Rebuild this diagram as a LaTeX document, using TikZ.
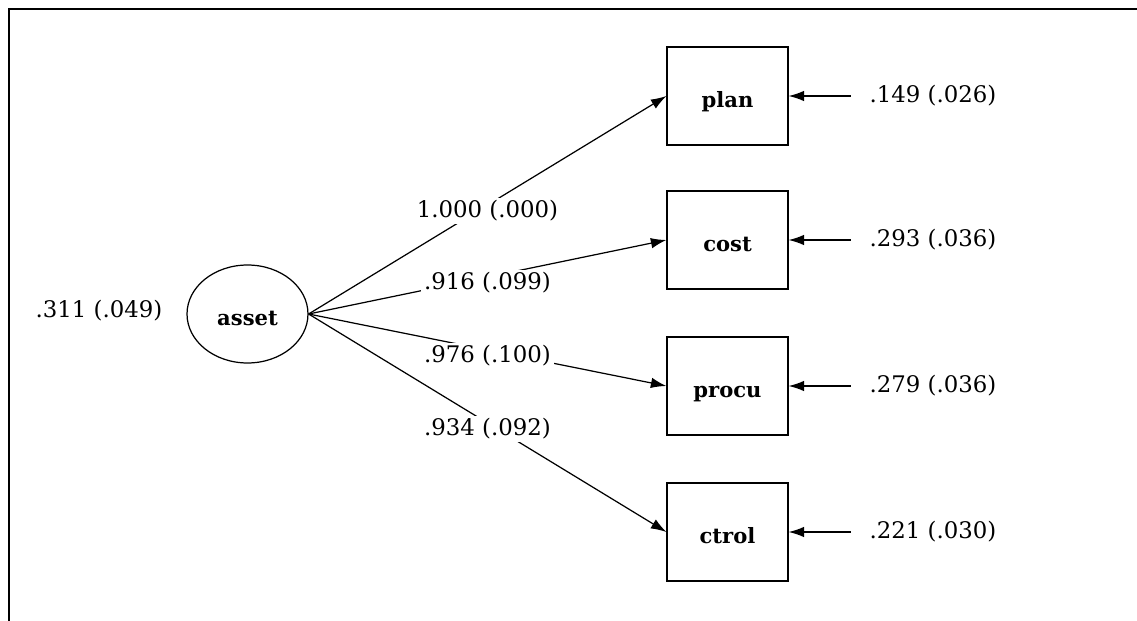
\documentclass[tikz,border=0pt]{standalone}
\usepackage{fontspec}
\setmainfont{DejaVu Serif}
\usepackage{tikz}
\usetikzlibrary{arrows.meta,shapes.geometric}
\tikzset{
  frame/.style={draw=black, line width=1pt},
  obs/.style={draw=black, rectangle, line width=0.7pt, minimum width=2.42cm, minimum height=1.96cm, text height=13pt, text depth=0pt, font=\fontsize{12}{14}\selectfont\bfseries},
  lat/.style={draw=black, ellipse, line width=0.7pt, minimum width=2.42cm, minimum height=1.96cm, inner sep=0pt, text height=13pt, text depth=0pt, font=\fontsize{12}{14}\selectfont\bfseries},
  arr/.style={-{Latex[length=3.1mm,width=2.1mm]}, line width=0.7pt},
  est/.style={fill=white, inner sep=1.5pt, yshift=-0.12cm, font=\fontsize{13}{15}\selectfont},
  err/.style={inner xsep=0.37cm, font=\fontsize{13}{15}\selectfont},
}

\begin{document}
\begin{tikzpicture}[x=0.02cm,y=-0.02cm]
  \useasboundingbox (0,0) rectangle (1137,621);
  \draw[frame] (9,621) -- (9,9) -- (1137,9);

  % latent factor
  \node[lat] (asset) at (247.5,314) {asset};
  \node[err, inner xsep=0pt] (vasset) at (99,311) {.311 (.049)};

  % indicators
  \node[obs] (plan)  at (727.5,96)  {plan};
  \node[obs] (cost)  at (727.5,240) {cost};
  \node[obs] (procu) at (727.5,386) {procu};
  \node[obs] (ctrol) at (727.5,532) {ctrol};

  % error terms
  \node[err] (eplan)  at (933,96)  {.149 (.026)};
  \node[err] (ecost)  at (933,240) {.293 (.036)};
  \node[err] (eprocu) at (933,386) {.279 (.036)};
  \node[err] (ectrol) at (933,532) {.221 (.030)};

  % loadings
  \draw[arr] (asset.east) -- node[est] {1.000 (.000)} (plan.west);
  \draw[arr] (asset.east) -- node[est] {.916 (.099)} (cost.west);
  \draw[arr] (asset.east) -- node[est] {.976 (.100)} (procu.west);
  \draw[arr] (asset.east) -- node[est] {.934 (.092)} (ctrol.west);

  \draw[arr] (eplan) -- (plan);
  \draw[arr] (ecost) -- (cost);
  \draw[arr] (eprocu) -- (procu);
  \draw[arr] (ectrol) -- (ctrol);
\end{tikzpicture}
\end{document}
